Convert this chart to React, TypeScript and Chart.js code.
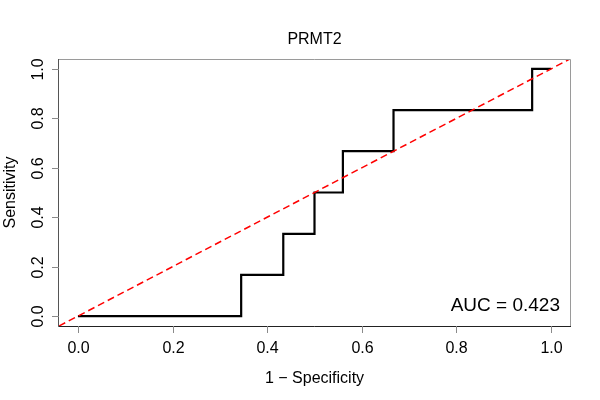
import React, { useEffect, useRef } from "react";
import { Chart, registerables } from "chart.js";

Chart.register(...registerables);

const chartTitle = "PRMT2";
const xAxisTitle = "1 \u2212 Specificity";
const yAxisTitle = "Sensitivity";
const aucLabel = "AUC = 0.423";

// ROC curve vertices (1 - specificity, sensitivity)
const fpr = [0, 0.345, 0.434, 0.5, 0.56, 0.667, 0.96, 1.0];
const tpr = [0, 0.167, 0.333, 0.5, 0.667, 0.833, 1.0, 1.0];

// reference diagonal spanning the full plot region
const diagX = [-0.04, 1.04];
const diagY = [-0.04, 1.04];

const tickValues = [0, 0.2, 0.4, 0.6, 0.8, 1.0];
const tickLabels = ["0.0", "0.2", "0.4", "0.6", "0.8", "1.0"];

const FONT = '"Liberation Sans", Arial, Helvetica, sans-serif';

const rStylePlugin = {
  id: "rStyle",
  afterDraw(chart: any) {
    const { ctx, chartArea: a, scales } = chart;
    const xs = scales.x;
    const ys = scales.y;
    ctx.save();

    // box
    ctx.lineWidth = 1;
    ctx.strokeStyle = "#9a9a9a";
    ctx.beginPath();
    ctx.moveTo(a.left, a.top + 0.5);
    ctx.lineTo(a.right + 0.5, a.top + 0.5);
    ctx.lineTo(a.right + 0.5, a.bottom);
    ctx.stroke();
    ctx.strokeStyle = "#555555";
    ctx.beginPath();
    ctx.moveTo(a.left - 0.5, a.top);
    ctx.lineTo(a.left - 0.5, a.bottom + 0.5);
    ctx.stroke();
    ctx.strokeStyle = "#222222";
    ctx.beginPath();
    ctx.moveTo(a.left - 0.5, a.bottom + 0.5);
    ctx.lineTo(a.right + 1, a.bottom + 0.5);
    ctx.stroke();

    // ticks
    ctx.strokeStyle = "#8a8a8a";
    ctx.fillStyle = "#000";
    ctx.font = `16px ${FONT}`;
    tickValues.forEach((v, i) => {
      const px = Math.round(xs.getPixelForValue(v)) + 0.5;
      ctx.beginPath();
      ctx.moveTo(px, a.bottom);
      ctx.lineTo(px, a.bottom + 7);
      ctx.stroke();
      ctx.textAlign = "center";
      ctx.textBaseline = "alphabetic";
      ctx.fillText(tickLabels[i], px, a.bottom + 27);

      const py = Math.round(ys.getPixelForValue(v)) + 0.5;
      ctx.beginPath();
      ctx.moveTo(a.left, py);
      ctx.lineTo(a.left - 7, py);
      ctx.stroke();
      ctx.save();
      ctx.translate(a.left - 16.5, py);
      ctx.rotate(-Math.PI / 2);
      ctx.textAlign = "center";
      ctx.fillText(tickLabels[i], 0, 0);
      ctx.restore();
    });

    const cx = (a.left + a.right) / 2;
    const cy = (a.top + a.bottom) / 2;

    // titles
    ctx.textAlign = "center";
    ctx.font = `16px ${FONT}`;
    ctx.fillText(chartTitle, cx, 43.5);
    ctx.fillText(xAxisTitle, cx, 383);
    ctx.save();
    ctx.translate(14.5, cy);
    ctx.rotate(-Math.PI / 2);
    ctx.fillText(yAxisTitle, 0, 0);
    ctx.restore();

    // AUC
    ctx.textAlign = "right";
    ctx.font = `19px ${FONT}`;
    ctx.fillText(aucLabel, a.right - 10, a.bottom - 15.5);

    ctx.restore();
  },
};

export default function App() {
  const ref = useRef<HTMLCanvasElement | null>(null);

  useEffect(() => {
    if (!ref.current) return;
    const chart = new Chart(ref.current, {
      type: "line",
      data: {
        datasets: [
          {
            data: diagX.map((x, i) => ({ x, y: diagY[i] })),
            borderColor: "#ff0000",
            borderWidth: 1.5,
            borderDash: [7, 4],
            pointRadius: 0,
            fill: false,
          },
          {
            data: fpr.map((x, i) => ({ x, y: tpr[i] })),
            borderColor: "#000000",
            borderWidth: 2.2,
            stepped: "before",
            pointRadius: 0,
            fill: false,
          },
        ],
      },
      options: {
        responsive: false,
        animation: false,
        devicePixelRatio: 1,
        layout: { padding: { left: 59, right: 30, top: 59, bottom: 74 } },
        plugins: {
          legend: { display: false },
          tooltip: { enabled: false },
          title: { display: false },
        },
        scales: {
          x: { type: "linear", min: -0.04, max: 1.04, display: false },
          y: { type: "linear", min: -0.04, max: 1.04, display: false },
        },
      },
      plugins: [rStylePlugin],
    });
    return () => chart.destroy();
  }, []);

  return (
    <div style={{ position: "fixed", left: 0, top: 0, width: 600, height: 400, background: "#fff" }}>
      <canvas ref={ref} width={600} height={400} />
    </div>
  );
}
